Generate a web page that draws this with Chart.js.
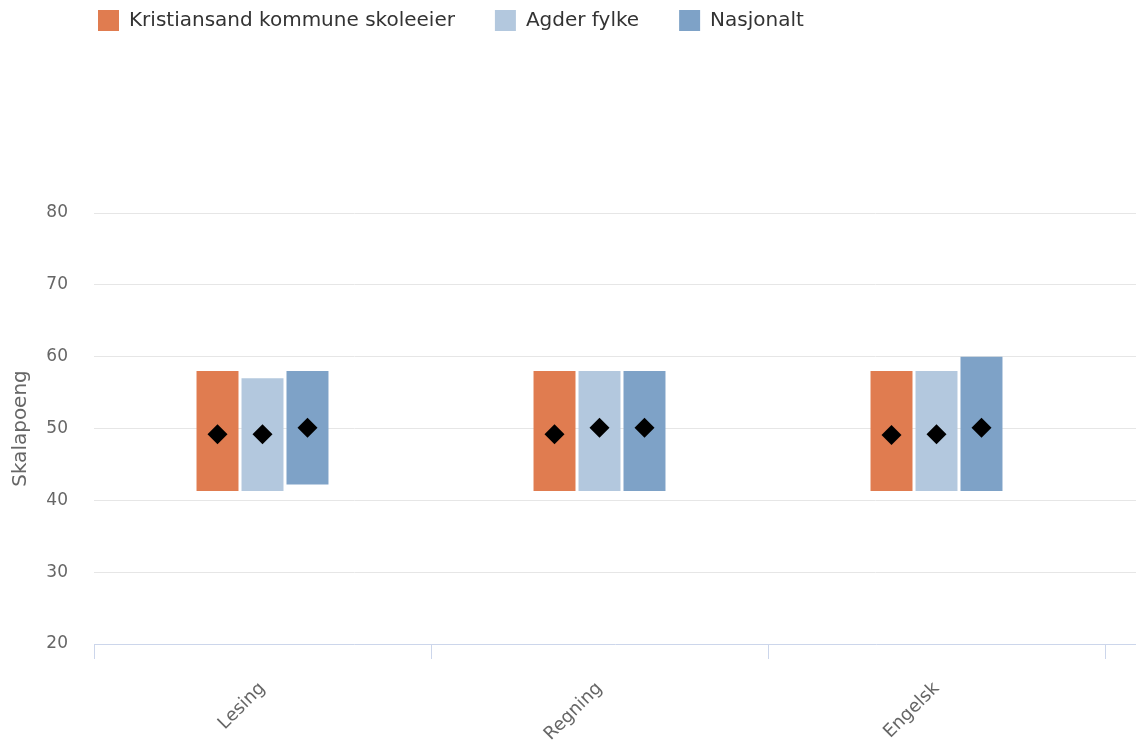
<!DOCTYPE html>
<html>
<head>
<meta charset="utf-8">
<script src="https://cdn.jsdelivr.net/npm/chart.js@4/dist/chart.umd.min.js"></script>
<style>
  html, body { margin: 0; padding: 0; background: #fff; overflow: hidden; }
  #wrap { width: 1136px; height: 740px; position: relative; }
</style>
</head>
<body>
<div id="wrap"><canvas id="c"></canvas></div>
<script>
// ---- data ----
const categories = ['Lesing', 'Regning', 'Engelsk'];
const seriesNames = ['Kristiansand kommune skoleeier', 'Agder fylke', 'Nasjonalt'];
const kristiansandLow  = [41.3, 41.3, 41.3];
const kristiansandHigh = [58, 58, 58];
const kristiansandMean = [49.2, 49.2, 49.1];
const agderLow  = [41.3, 41.3, 41.3];
const agderHigh = [57, 58, 58];
const agderMean = [49.2, 50.1, 49.2];
const nasjonaltLow  = [42.2, 41.3, 41.3];
const nasjonaltHigh = [58, 58, 60];
const nasjonaltMean = [50.1, 50.1, 50.1];
const yTicks = [20, 30, 40, 50, 60, 70, 80];
const xTickValues = [-0.5, 0, 0.5, 1, 1.5, 2, 2.5];

const colors = ['#e07c50', '#b3c8de', '#7ea2c7'];
const lows = [kristiansandLow, agderLow, nasjonaltLow];
const highs = [kristiansandHigh, agderHigh, nasjonaltHigh];
const means = [kristiansandMean, agderMean, nasjonaltMean];

const FONT = 'DejaVu Sans';

const datasets = seriesNames.map((name, s) => ({
  label: name,
  data: categories.map((c, i) => ({ x: i, y: [lows[s][i], highs[s][i]] })),
  backgroundColor: colors[s],
  borderWidth: 0,
  categoryPercentage: 0.801,
  barPercentage: 0.933,
  grouped: true
}));

const meanMarkers = {
  id: 'meanMarkers',
  afterDatasetsDraw(chart) {
    const ctx = chart.ctx;
    const yScale = chart.scales.y;
    const r = 10;
    ctx.save();
    ctx.fillStyle = '#000';
    means.forEach((arr, s) => {
      const meta = chart.getDatasetMeta(s);
      if (meta.hidden) return;
      meta.data.forEach((bar, i) => {
        const x = bar.x;
        const y = yScale.getPixelForValue(arr[i]);
        ctx.beginPath();
        ctx.moveTo(x, y - r);
        ctx.lineTo(x + r, y);
        ctx.lineTo(x, y + r);
        ctx.lineTo(x - r, y);
        ctx.closePath();
        ctx.fill();
      });
    });
    ctx.restore();
  }
};

const legendShift = {
  id: 'legendShift',
  afterLayout(chart) {
    const l = chart.legend;
    if (!l) return;
    l.left = 58;
    l.top = -30;
  }
};

new Chart(document.getElementById('c'), {
  type: 'bar',
  data: { datasets },
  plugins: [meanMarkers, legendShift],
  options: {
    responsive: true,
    maintainAspectRatio: false,
    animation: false,
    layout: { padding: { top: 142, left: 0, right: 0, bottom: 0 } },
    plugins: {
      tooltip: { enabled: false },
      legend: {
        position: 'top',
        align: 'start',
        labels: {
          boxWidth: 21,
          boxHeight: 21,
          padding: 40,
          color: '#333333',
          font: { family: FONT, size: 20 }
        }
      }
    },
    scales: {
      x: {
        type: 'linear',
        offset: false,
        min: -0.5,
        max: -0.5 + 1042 / 337,
        afterBuildTicks: (scale) => { scale.ticks = xTickValues.map(v => ({ value: v })); },
        afterFit: (scale) => { scale.height = 96; scale.paddingLeft = 0; scale.paddingRight = 0; },
        border: { color: '#ccd6eb', width: 1 },
        grid: {
          offset: false,
          drawOnChartArea: false,
          tickLength: 15,
          tickWidth: 1,
          tickColor: (ctx) => (ctx.tick && Number.isInteger(ctx.tick.value)) ? 'rgba(0,0,0,0)' : '#ccd6eb'
        },
        ticks: {
          autoSkip: false,
          minRotation: 45,
          maxRotation: 45,
          padding: 19,
          color: '#666666',
          font: { family: FONT, size: 18 },
          callback: (value) => Number.isInteger(value) ? categories[value] : ''
        }
      },
      y: {
        min: 20,
        max: 80,
        afterBuildTicks: (scale) => { scale.ticks = yTicks.map(v => ({ value: v })); },
        afterFit: (scale) => { scale.width = 94; },
        border: { display: false },
        grid: {
          drawTicks: false,
          color: (ctx) => (ctx.tick && ctx.tick.value === 20) ? 'rgba(0,0,0,0)' : '#e6e6e6',
          lineWidth: 1
        },
        ticks: {
          padding: 26,
          color: '#666666',
          font: { family: FONT, size: 17 }
        },
        title: {
          display: true,
          text: 'Skalapoeng',
          color: '#666666',
          font: { family: FONT, size: 20 },
          padding: { top: 9, bottom: 0 }
        }
      }
    }
  }
});
</script>
</body>
</html>
